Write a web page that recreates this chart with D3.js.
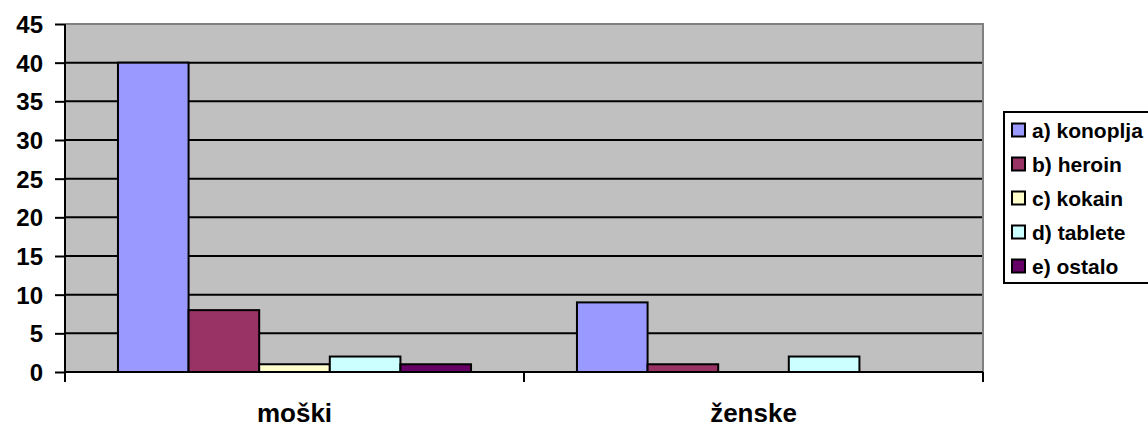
<!DOCTYPE html>
<html><head><meta charset="utf-8">
<script src="https://cdn.jsdelivr.net/npm/d3@7"></script>
<style>body{margin:0;background:#fff}svg{display:block}text{font-family:"Liberation Sans",Arial,sans-serif;font-weight:bold}</style>
</head><body>
<svg id="c" width="1148" height="428"></svg>
<script>
const categories = ["moški", "ženske"];
const seriesNames = ["a) konoplja", "b) heroin", "c) kokain", "d) tablete", "e) ostalo"];
const seriesColors = ["#9999FF", "#993366", "#FFFFCC", "#CCFFFF", "#660066"];
const konoplja = [40, 9];
const heroin = [8, 1];
const kokain = [1, 0];
const tablete = [2, 2];
const ostalo = [1, 0];
const yTicks = [0, 5, 10, 15, 20, 25, 30, 35, 40, 45];

const seriesValues = [konoplja, heroin, kokain, tablete, ostalo];
const svg = d3.select("#c");
const L = 65, R = 983, T = 24, B = 372;

const x0 = d3.scaleBand().domain(categories).range([L, R]).paddingInner(0).paddingOuter(0);
const y = d3.scaleLinear().domain([0, 45]).range([B, T]);
const bw = x0.bandwidth() / 6.5;
const x1 = d3.scaleBand().domain(seriesNames).range([0.75 * bw, 5.75 * bw]).padding(0);

svg.append("rect").attr("x", L).attr("y", T).attr("width", R - L).attr("height", B - T).attr("fill", "#C0C0C0");
svg.append("g").selectAll("line").data(yTicks.filter(d => d > 0 && d < 45)).join("line")
  .attr("x1", L).attr("x2", R).attr("y1", d => y(d)).attr("y2", d => y(d))
  .attr("stroke", "#000").attr("stroke-width", 2);
svg.append("path").attr("d", `M${L},${T}H${R}V${B}`).attr("fill", "none").attr("stroke", "#808080").attr("stroke-width", 2);

const rows = [];
categories.forEach((c, i) => seriesNames.forEach((s, j) => rows.push({c, s, v: seriesValues[j][i], col: seriesColors[j]})));
svg.append("g").selectAll("rect").data(rows.filter(d => d.v > 0)).join("rect")
  .attr("x", d => x0(d.c) + x1(d.s))
  .attr("y", d => y(d.v))
  .attr("width", x1.bandwidth())
  .attr("height", d => y(0) - y(d.v))
  .attr("fill", d => d.col).attr("stroke", "#000").attr("stroke-width", 2);

const yAxis = d3.axisLeft(y).tickValues(yTicks).tickSize(10).tickPadding(12);
const gy = svg.append("g").attr("transform", `translate(${L},0)`).call(yAxis);
gy.select(".domain").attr("d", `M0,${T}V${B + 10}`).attr("stroke", "#000").attr("stroke-width", 2);
gy.selectAll(".tick line").attr("stroke", "#000").attr("stroke-width", 2);
gy.selectAll(".tick text").attr("font-size", 24).attr("fill", "#000").attr("font-family", "Liberation Sans, Arial").attr("font-weight", "bold").attr("dy", "0.36em");

const xAxis = d3.axisBottom(x0).tickSize(0).tickPadding(0);
const gx = svg.append("g").attr("transform", `translate(0,${B})`).call(xAxis);
gx.select(".domain").attr("d", `M${L},0H${R}`).attr("stroke", "#000").attr("stroke-width", 2);
gx.selectAll(".tick text").attr("font-size", 26).attr("fill", "#000").attr("font-family", "Liberation Sans, Arial").attr("font-weight", "bold")
  .attr("y", 50).attr("dy", 0);
const bounds = categories.map(c => x0(c)).concat([R]);
gx.append("g").selectAll("line").data(bounds).join("line")
  .attr("x1", d => d).attr("x2", d => d).attr("y1", 0).attr("y2", 10)
  .attr("stroke", "#000").attr("stroke-width", 2);

const lg = svg.append("g");
lg.append("rect").attr("x", 1004).attr("y", 112).attr("width", 160).attr("height", 171)
  .attr("fill", "#fff").attr("stroke", "#000").attr("stroke-width", 2);
const ly = d3.scalePoint().domain(seriesNames).range([130, 266]);
const items = lg.selectAll("g.it").data(seriesNames).join("g").attr("class", "it")
  .attr("transform", d => `translate(1012,${ly(d)})`);
items.append("rect").attr("x", 0).attr("y", -6.5).attr("width", 13).attr("height", 13)
  .attr("fill", (d, i) => seriesColors[i]).attr("stroke", "#000").attr("stroke-width", 2);
items.append("text").attr("x", 20).attr("dy", "0.36em").attr("font-size", 21).text(d => d);
</script>
</body></html>
